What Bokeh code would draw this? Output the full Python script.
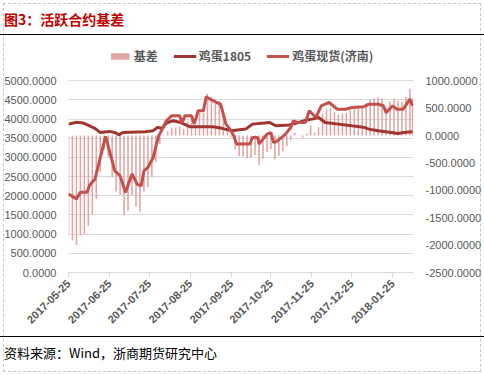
import math
import pandas as pd
from bokeh.plotting import figure
from bokeh.models import (Range1d, LinearAxis, FixedTicker, NumeralTickFormatter,
                          DatetimeTickFormatter, Legend, LegendItem, Div)
from bokeh.layouts import column
from bokeh.embed import file_html
from bokeh.resources import INLINE

title_text = "图3：活跃合约基差"
source_text = "资料来源：Wind，浙商期货研究中心"
series_names = ["基差", "鸡蛋1805", "鸡蛋现货(济南)"]

tick_dates = ["2017-05-25", "2017-06-25", "2017-07-25", "2017-08-25", "2017-09-25",
              "2017-10-25", "2017-11-25", "2017-12-25", "2018-01-25"]
left_ticks = [0, 500, 1000, 1500, 2000, 2500, 3000, 3500, 4000, 4500, 5000]
right_ticks = [-2500, -2000, -1500, -1000, -500, 0, 500, 1000]

spot_dates = ["2017-05-25", "2017-05-31", "2017-06-03", "2017-06-08", "2017-06-10", "2017-06-14",
              "2017-06-22", "2017-06-29", "2017-07-03", "2017-07-07", "2017-07-12", "2017-07-16",
              "2017-07-19", "2017-07-21", "2017-07-24", "2017-07-28", "2017-08-01", "2017-08-07",
              "2017-08-11", "2017-08-17", "2017-08-19", "2017-08-21", "2017-08-26", "2017-08-28",
              "2017-08-31", "2017-09-04", "2017-09-06", "2017-09-09", "2017-09-14", "2017-09-17",
              "2017-09-21", "2017-09-24", "2017-09-27", "2017-09-29", "2017-10-09", "2017-10-11",
              "2017-10-15", "2017-10-16", "2017-10-22", "2017-10-25", "2017-10-27", "2017-10-30",
              "2017-11-05", "2017-11-09", "2017-11-11", "2017-11-14", "2017-11-20", "2017-11-23",
              "2017-11-28", "2017-12-02", "2017-12-05", "2017-12-08", "2017-12-14", "2017-12-21",
              "2017-12-25", "2018-01-03", "2018-01-07", "2018-01-14", "2018-01-18", "2018-01-20",
              "2018-01-25", "2018-01-28", "2018-02-02", "2018-02-07", "2018-02-09"]
spot_values = [2045, 1920, 2090, 2090, 2280, 2435,
               3550, 2650, 2520, 2090, 2570, 2300,
               2260, 2650, 2740, 3000, 3550, 3957,
               4090, 4090, 3910, 4090, 4090, 3870,
               4218, 4218, 4583, 4520, 4434, 4390,
               3870, 3740, 3560, 3350, 3350, 3522,
               3522, 3350, 3610, 3650, 3390, 3435,
               3610, 3783, 3957, 3913, 3913, 4218,
               4043, 4348, 4390, 4434, 4260, 4260,
               4304, 4320, 4390, 4390, 4350, 4170,
               4348, 4260, 4260, 4522, 4348]

fut_dates = ["2017-05-25", "2017-05-31", "2017-06-05", "2017-06-14", "2017-06-18", "2017-06-25",
             "2017-06-30", "2017-07-02", "2017-07-05", "2017-07-22", "2017-07-28", "2017-07-31",
             "2017-08-04", "2017-08-07", "2017-08-12", "2017-08-17", "2017-08-25", "2017-09-11",
             "2017-09-18", "2017-09-25", "2017-10-06", "2017-10-11", "2017-10-24", "2017-10-29",
             "2017-11-08", "2017-11-15", "2017-11-21", "2017-11-25", "2017-11-30", "2017-12-05",
             "2017-12-15", "2017-12-25", "2018-01-03", "2018-01-07", "2018-01-14", "2018-01-24",
             "2018-01-29", "2018-02-04", "2018-02-09"]
fut_values = [3870, 3920, 3900, 3760, 3650, 3680,
              3640, 3590, 3650, 3670, 3700, 3780,
              3760, 3900, 3960, 3920, 3800, 3800,
              3760, 3700, 3740, 3870, 3913, 3826,
              3850, 3913, 3980, 4000, 4043, 3913,
              3870, 3826, 3790, 3740, 3696, 3652,
              3626, 3660, 3670]

basis_dates = ["2017-05-25", "2017-05-28", "2017-05-31", "2017-06-03", "2017-06-06", "2017-06-09",
               "2017-06-12", "2017-06-15", "2017-06-18", "2017-06-21", "2017-06-24", "2017-06-27",
               "2017-06-30", "2017-07-03", "2017-07-06", "2017-07-09", "2017-07-12", "2017-07-15",
               "2017-07-18", "2017-07-21", "2017-07-24", "2017-07-27", "2017-07-30", "2017-08-02",
               "2017-08-05", "2017-08-08", "2017-08-11", "2017-08-14", "2017-08-17", "2017-08-20",
               "2017-08-23", "2017-08-26", "2017-08-29", "2017-09-01", "2017-09-04", "2017-09-07",
               "2017-09-10", "2017-09-13", "2017-09-16", "2017-09-19", "2017-09-22", "2017-09-25",
               "2017-09-28", "2017-10-01", "2017-10-04", "2017-10-07", "2017-10-10", "2017-10-13",
               "2017-10-16", "2017-10-19", "2017-10-22", "2017-10-25", "2017-10-28", "2017-10-31",
               "2017-11-03", "2017-11-06", "2017-11-09", "2017-11-12", "2017-11-15", "2017-11-18",
               "2017-11-21", "2017-11-24", "2017-11-27", "2017-11-30", "2017-12-03", "2017-12-06",
               "2017-12-09", "2017-12-12", "2017-12-15", "2017-12-18", "2017-12-21", "2017-12-24",
               "2017-12-27", "2017-12-30", "2018-01-02", "2018-01-05", "2018-01-08", "2018-01-11",
               "2018-01-14", "2018-01-17", "2018-01-20", "2018-01-23", "2018-01-26", "2018-01-29",
               "2018-02-01", "2018-02-04", "2018-02-07", "2018-02-09"]
basis_values = [-1825, -1912, -2000, -1818, -1794, -1653,
                -1433, -1158, -659, -255, -383, -757,
                -1022, -1090, -1453, -1373, -1088, -1294,
                -1392, -1019, -940, -760, -478, -152,
                14, 78, 142, 146, 170, 125,
                260, 290, 186, 418, 418, 762,
                703, 662, 634, 379, 101, -20,
                -256, -372, -383, -416, -408, -355,
                -537, -417, -296, -246, -438, -367,
                -286, -192, -76, 56, 0, -33,
                35, 188, 61, 153, 397, 496,
                509, 435, 390, 403, 416, 463,
                490, 507, 524, 590, 656, 675,
                694, 677, 500, 621, 677, 634,
                617, 705, 856, 678]

GRAY = "#595959"
GRID = "#D9D9D9"
BAR_C = "#DA9896"
FUT_C = "#A0352F"
SPOT_C = "#C4504B"
FONT = "Liberation Sans"
CJK = "Noto Sans CJK SC"

day_ms = 86400000
W = 484
FIG_H = 301
TOP = 6          # frame starts just under the title rule; legend sits in the blank top strip
BOTTOM = 64
frame_h = FIG_H - TOP - BOTTOM
tick_span_px = 191.7   # pixel span of the 0..5000 (left) / -2500..1000 (right) tick range
stretch = frame_h / tick_span_px

p = figure(width=W, height=FIG_H, output_backend="svg", toolbar_location=None,
           x_axis_type="datetime",
           x_range=Range1d(pd.Timestamp("2017-05-25"), pd.Timestamp("2018-02-09 18:00")),
           y_range=Range1d(0, 5000 * stretch),
           min_border_left=68, min_border_right=69, min_border_top=TOP, min_border_bottom=BOTTOM,
           margin=0)
p.extra_y_ranges = {"right": Range1d(-2500, -2500 + 3500 * stretch)}
p.outline_line_color = None
p.border_fill_alpha = 0
p.background_fill_alpha = 0

bars = p.vbar(x=pd.to_datetime(basis_dates), top=basis_values, bottom=0, width=1.2 * day_ms,
              y_range_name="right", fill_color=BAR_C, line_color=None, fill_alpha=0.85)
fut = p.line(pd.to_datetime(fut_dates), fut_values, line_color=FUT_C, line_width=3)
spot = p.line(pd.to_datetime(spot_dates), spot_values, line_color=SPOT_C, line_width=3)

xa = p.xaxis[0]
xa.ticker = FixedTicker(ticks=[pd.Timestamp(d).value // 10**6 for d in tick_dates])
xa.formatter = DatetimeTickFormatter(days="%Y-%m-%d", months="%Y-%m-%d", years="%Y-%m-%d",
                                     hours="%Y-%m-%d", minutes="%Y-%m-%d")
xa.major_label_orientation = math.pi / 4
xa.axis_line_color = GRID
xa.major_tick_line_color = GRID
xa.major_tick_out = 5
xa.major_tick_in = 0
xa.minor_tick_line_color = None
xa.minor_tick_out = 0
xa.major_label_text_color = GRAY
xa.major_label_text_font = FONT
xa.major_label_text_font_size = "11px"
xa.major_label_text_font_style = "bold"
xa.major_label_standoff = 4


def style_y(ax):
    ax.formatter = NumeralTickFormatter(format="0.0000")
    ax.axis_line_color = None
    ax.major_tick_line_color = None
    ax.minor_tick_line_color = None
    ax.major_tick_out = 0
    ax.major_tick_in = 0
    ax.minor_tick_out = 0
    ax.minor_tick_in = 0
    ax.major_label_text_color = GRAY
    ax.major_label_text_font = FONT
    ax.major_label_text_font_size = "11px"
    ax.major_label_standoff = 12


ya = p.yaxis[0]
ya.ticker = FixedTicker(ticks=left_ticks)
style_y(ya)

ra = LinearAxis(y_range_name="right", ticker=FixedTicker(ticks=right_ticks))
style_y(ra)
p.add_layout(ra, "right")

p.xgrid.grid_line_color = None
p.ygrid.grid_line_color = GRID
p.ygrid.grid_line_width = 1

legend = Legend(items=[LegendItem(label=series_names[0], renderers=[bars]),
                       LegendItem(label=series_names[1], renderers=[fut]),
                       LegendItem(label=series_names[2], renderers=[spot])],
                orientation="horizontal", location="top_center",
                label_text_font=CJK, label_text_font_size="12px", label_text_color=GRAY,
                label_text_font_style="bold",
                border_line_color=None, background_fill_alpha=0,
                glyph_width=23, glyph_height=8, spacing=15, label_standoff=3,
                padding=0, margin=6)
p.add_layout(legend, "center")

title_div = Div(text=title_text, width=W, height=35, margin=0,
                styles={"font-family": CJK, "font-size": "14px", "font-weight": "bold",
                        "color": "#C00000", "line-height": "38px", "padding-left": "4px",
                        "box-sizing": "border-box", "border-bottom": "1.5px solid #000"})
source_div = Div(text=source_text, width=W, height=39, margin=0,
                 styles={"font-family": CJK, "font-size": "13px", "color": "#000",
                         "line-height": "32px", "padding-left": "4px",
                         "box-sizing": "border-box", "border-top": "1.5px solid #000"})

layout = column(title_div, p, source_div, spacing=0, margin=0,
                styles={"outline": "1px dashed #C8C8C8", "outline-offset": "-4px"})

open("out.html", "w").write(file_html(layout, INLINE))
